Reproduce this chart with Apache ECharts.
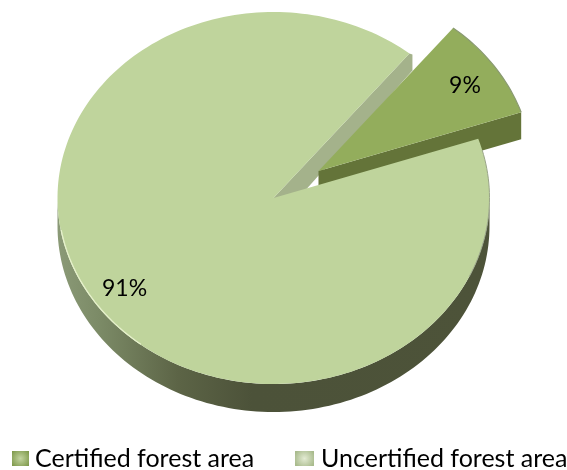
<!DOCTYPE html>
<html>
<head>
<meta charset="utf-8" />
<style>
  html, body, #main { margin: 0; padding: 0; background: #fff; }
  #main { width: 567px; height: 470px; }
</style>
</head>
<body>
<div id="main"></div>
<script src="https://cdn.jsdelivr.net/npm/echarts@6/dist/echarts.min.js"></script>
<script>
const categories = ["Certified forest area", "Uncertified forest area"];
const values = [9, 91];

// pie geometry
const CX = 273.5, CY = 198, RX = 216, RY = 186, DEPTH = 28;
const START = 51; // degrees, slices run clockwise from here
const EXPLODE = [45, -27]; // first slice is pulled out
const total = values[0] + values[1];
const FONT = "Lato, 'Open Sans', sans-serif";

const pt = (deg, cx, cy, k = 1) => {
  const a = deg * Math.PI / 180;
  return [cx + RX * k * Math.cos(a), cy - RY * k * Math.sin(a)];
};
const arc = (from, to, cx, cy, k = 1) => {
  const pts = [];
  const n = Math.max(2, Math.ceil(Math.abs(to - from) / 1.5));
  for (let i = 0; i <= n; i++) pts.push(pt(from + (to - from) * i / n, cx, cy, k));
  return pts;
};
const sliceAngles = (i) => {
  let before = 0;
  for (let j = 0; j < i; j++) before += values[j];
  return [START - before / total * 360, START - (before + values[i]) / total * 360];
};

const poly = (points, fill, z2) => ({ type: "polygon", z2, shape: { points }, style: { fill } });
const line = (points, stroke, width, z2) => ({
  type: "polyline", z2, shape: { points }, style: { stroke, lineWidth: width, fill: null }
});
const label = (text, x, y) => ({
  type: "text", z2: 20,
  style: { text, x, y, align: "center", verticalAlign: "middle", font: "23px " + FONT, fill: "#000" }
});

// certified: the pulled out wedge, sits behind the big slice's top face
function renderCertified(params, api) {
  const v = api.value(0);
  const [a0, a1] = sliceAngles(0);
  const ax = CX + EXPLODE[0], ay = CY + EXPLODE[1];
  const outer = arc(a0, a1, ax, ay, 0.99);
  const end = outer[outer.length - 1];
  const mid = pt((a0 + a1) / 2, ax, ay, 0.82);
  return {
    type: "group",
    children: [
      poly([[ax, ay], end, [end[0], end[1] + DEPTH - 1], [ax, ay + DEPTH - 1]], "#647439", 4),
      poly([[ax, ay]].concat(outer), "#93ad5c", 5),
      line(outer, "#8a9a72", 1.2, 6),
      label(v + "%", mid[0] + 1, mid[1] + 2)
    ]
  };
}

// uncertified: the big slice with rim and the wall seen through the gap
function renderUncertified(params, api) {
  const v = api.value(0);
  const [a0, a1] = sliceAngles(1);
  const outer = arc(a0, a1, CX, CY);
  const wallTop = outer[outer.length - 1];
  const front = arc(0, -180, CX, CY);
  const back = front.map((p) => [p[0], p[1] + DEPTH]).reverse();
  const mid = pt((a0 + a1) / 2, CX, CY, 0.84);
  const sideFill = new echarts.graphic.LinearGradient(0, 0, 1, 0, [
    { offset: 0, color: "#8b9a77" },
    { offset: 0.1, color: "#7b8a66" },
    { offset: 0.28, color: "#5c6446" },
    { offset: 0.45, color: "#4c5239" },
    { offset: 1, color: "#4d5339" }
  ]);
  return {
    type: "group",
    children: [
      poly(front.concat(back), sideFill, 1),
      poly([
        [CX, CY], wallTop, [wallTop[0] + 3, wallTop[1] + 1],
        [wallTop[0] + 3, wallTop[1] + 17], [CX, CY + DEPTH]
      ], "#a4b28b", 2),
      poly([[CX, CY]].concat(outer), "#bfd49c", 10),
      line(arc(190, 232, CX, CY, 0.998), "#e6f1cb", 1.3, 11),
      line(arc(15, -25, CX, CY), "#9aa589", 1, 11),
      label(v + "%", mid[0], mid[1] + 1)
    ]
  };
}

const legendIcon = (edge, centre) => new echarts.graphic.RadialGradient(0.5, 0.5, 0.7, [
  { offset: 0, color: centre },
  { offset: 1, color: edge }
]);

const chart = echarts.init(document.getElementById("main"), null, { renderer: "canvas" });
chart.setOption({
  animation: false,
  backgroundColor: "#fff",
  legend: [
    {
      data: [{ name: categories[0], icon: "rect", itemStyle: { color: legendIcon("#7f9a4c", "#c3d4a0") } }],
      left: 12, top: 446, itemWidth: 17, itemHeight: 15, itemGap: 0, padding: 0,
      textStyle: { fontFamily: FONT, fontSize: 25, color: "#000", padding: [0, 0, 0, 1] }
    },
    {
      data: [{ name: categories[1], icon: "rect", itemStyle: { color: legendIcon("#a9bb8d", "#e3ebd3") } }],
      left: 295, top: 446, itemWidth: 19, itemHeight: 15, itemGap: 0, padding: 0,
      textStyle: { fontFamily: FONT, fontSize: 25, color: "#000", padding: [0, 0, 0, 2] }
    }
  ],
  series: [
    { type: "custom", name: categories[0], coordinateSystem: "none", silent: true,
      itemStyle: { color: "#93ad5c" }, data: [values[0]], renderItem: renderCertified },
    { type: "custom", name: categories[1], coordinateSystem: "none", silent: true,
      itemStyle: { color: "#bfd49c" }, data: [values[1]], renderItem: renderUncertified }
  ]
});
</script>
</body>
</html>
